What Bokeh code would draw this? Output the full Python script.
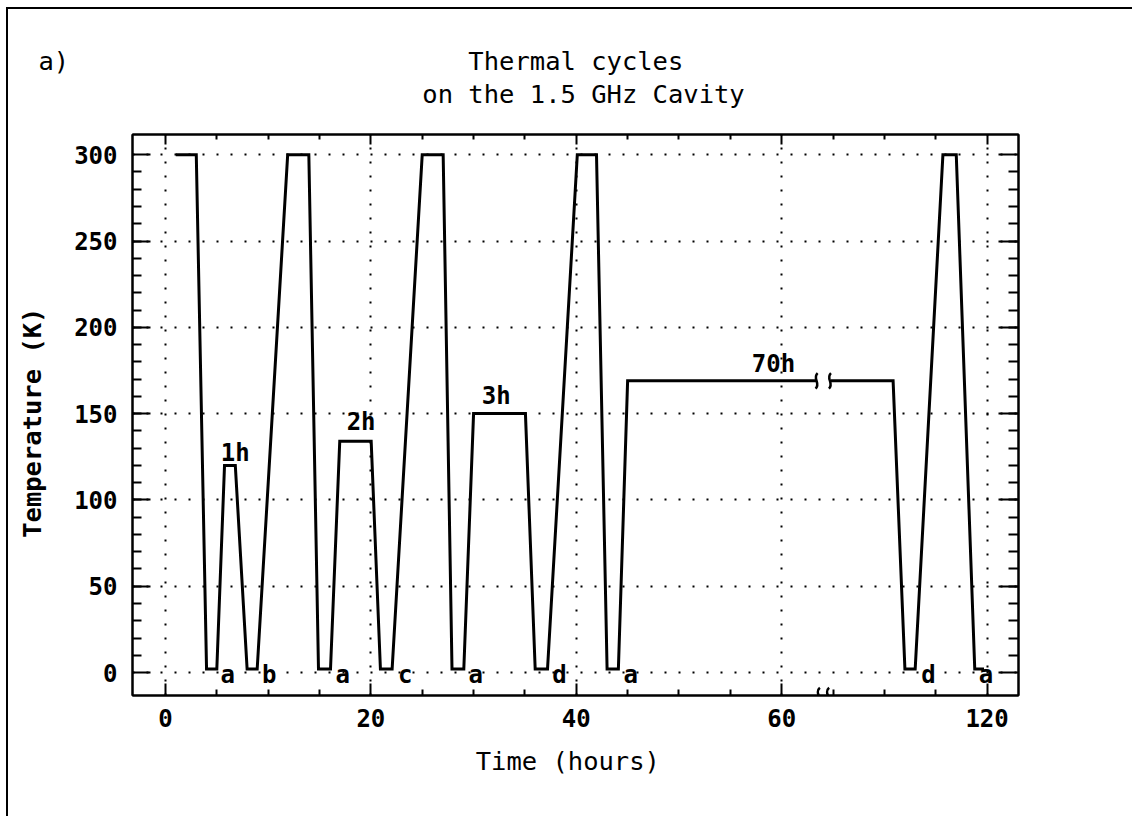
from bokeh.plotting import figure
from bokeh.models import Range1d, FixedTicker, LinearAxis, ColumnDataSource, Title
from bokeh.core.properties import value
from bokeh.embed import file_html
from bokeh.resources import INLINE

# ---------------- data (real hours, Kelvin) ----------------
# axis break: 40 hours of the 70 h hold are cut out after t = 64 h
BREAK_AT = 64.0
HIDDEN_HOURS = 40.0

time_part1 = [1, 3, 4, 5, 5.75, 6.8, 7.95, 8.93, 11.9, 13.96, 14.9, 16.07,
              16.97, 20.03, 20.93, 22.07, 25.0, 27.04, 27.9, 29.05, 30.0, 35.05,
              36.0, 37.2, 40.1, 41.97, 43.0, 44.1, 45.0, 63.4]
temp_part1 = [300, 300, 2, 2, 120, 120, 2, 2, 300, 300, 2, 2,
              134, 134, 2, 2, 300, 300, 2, 2, 150, 150,
              2, 2, 300, 300, 2, 2, 169, 169]
time_part2 = [104.8, 110.85, 112.0, 113.0, 115.7, 117.0, 118.8, 119.7]
temp_part2 = [169, 169, 2, 2, 300, 300, 2, 2]

letter_text = ["a", "b", "a", "c", "a", "d", "a", "d", "a"]
letter_time = [5.35, 9.4, 16.55, 22.65, 29.5, 37.65, 44.6, 113.6, 119.2]
letter_temp = [-1.5] * 9

hold_text = ["1h", "2h", "3h", "70h"]
hold_time = [6.8, 19.05, 32.2, 59.2]
hold_temp = [127, 145, 160, 179]

x_tick_hours = [0, 20, 40, 60, 120]
y_ticks = [0, 50, 100, 150, 200, 250, 300]
y_minor = [v for v in range(10, 300, 10)]
x_minor_hours = [5, 10, 15, 25, 30, 35, 45, 50, 55, 65, 105, 110, 115]
break_marks_hours = [63.4, 104.7]      # squiggles on the hold line
axis_break_hours = [63.6, 104.5]       # squiggles on the time axis

title_line1 = "Thermal cycles"
title_line2 = "on the 1.5 GHz Cavity"
panel_tag = "a)"


def disp(t):
    return t if t <= BREAK_AT else t - HIDDEN_HOURS


MONO = "DejaVu Sans Mono"
NB = "\u00a0"

p = figure(width=1126, height=809, output_backend="svg", toolbar_location=None,
           title=None,
           x_range=Range1d(-3.21, 83.06), y_range=Range1d(-13.3, 311.7),
           min_border_left=124, min_border_right=116,
           min_border_top=125, min_border_bottom=123)
p.styles = {"margin-left": "6px", "margin-top": "7px",
            "border-left": "2px solid black", "border-top": "2px solid black"}
p.background_fill_color = "white"
p.border_fill_color = "white"
p.outline_line_color = "black"
p.outline_line_width = 2

x_major = [disp(t) for t in x_tick_hours]
x_minor = [disp(t) for t in x_minor_hours]
x_ticker = FixedTicker(ticks=x_major, minor_ticks=x_minor)
y_ticker = FixedTicker(ticks=y_ticks, minor_ticks=y_minor)
overrides = {disp(t): str(t) for t in x_tick_hours}

# grids
p.xgrid.ticker = x_ticker
p.ygrid.ticker = y_ticker
for g in (p.xgrid, p.ygrid):
    g.grid_line_color = "black"
    g.grid_line_width = 2
    g.grid_line_dash = "2 12"


def style_axis(ax, tin, mtin, labels=True):
    ax.axis_line_color = "black"
    ax.axis_line_width = 2
    ax.major_tick_in = tin
    ax.major_tick_out = 0
    ax.minor_tick_in = mtin
    ax.minor_tick_out = 0
    ax.major_tick_line_width = 2
    ax.minor_tick_line_width = 2
    ax.major_tick_line_color = "black"
    ax.minor_tick_line_color = "black"
    if labels:
        ax.major_label_text_font = MONO
        ax.major_label_text_font_size = "24px"
        ax.major_label_text_font_style = "bold"
        ax.major_label_text_color = "black"
    else:
        ax.major_label_text_color = None
        ax.major_label_text_font_size = "1px"
        ax.major_label_standoff = 0


xa = p.xaxis[0]
xa.ticker = x_ticker
xa.major_label_overrides = overrides
style_axis(xa, 12, 6)
xa.major_label_standoff = 13
xa.axis_label = "Time  (hours)"
xa.axis_label_text_font = MONO
xa.axis_label_text_font_size = "25.5px"
xa.axis_label_text_font_style = "normal"
xa.axis_label_text_color = "black"
xa.axis_label_standoff = 16

ya = p.yaxis[0]
ya.ticker = y_ticker
style_axis(ya, 18, 9)
ya.major_label_standoff = 15
ya.axis_label = "Temperature  (K)"
ya.axis_label_text_font = MONO
ya.axis_label_text_font_size = "25.5px"
ya.axis_label_text_font_style = "bold"
ya.axis_label_text_color = "black"
ya.axis_label_standoff = 24

top = LinearAxis(ticker=x_ticker)
style_axis(top, 10, 5, labels=False)
p.add_layout(top, "above")
right = LinearAxis(ticker=y_ticker)
style_axis(right, 20, 10, labels=False)
p.add_layout(right, "right")

# title block: panel tag + two centred title lines (monospace columns)
line1 = panel_tag + NB * 26 + title_line1
line2 = NB * 25 + title_line2
p.add_layout(Title(text=line1 + "\n" + line2, align="left", offset=-94,
                   vertical_align="middle", text_font=MONO, text_font_size="25.5px",
                   text_font_style="normal", text_color="black",
                   text_line_height=1.1, standoff=50), "above")

# trace
src1 = ColumnDataSource(dict(x=[disp(t) for t in time_part1], y=temp_part1))
src2 = ColumnDataSource(dict(x=[disp(t) for t in time_part2], y=temp_part2))
p.line("x", "y", source=src1, line_color="black", line_width=3, line_join="miter")
p.line("x", "y", source=src2, line_color="black", line_width=3, line_join="miter")

# break marks on the hold line
bx = [disp(t) for t in break_marks_hours]
by = [temp_part1[-1]] * len(bx)
p.bezier(x0=[x + 0.1 for x in bx], y0=[y + 4.5 for y in by],
         x1=[x - 0.1 for x in bx], y1=[y - 4.5 for y in by],
         cx0=[x - 0.45 for x in bx], cy0=[y + 1.5 for y in by],
         cx1=[x + 0.45 for x in bx], cy1=[y - 1.5 for y in by],
         line_color="black", line_width=2.5)

# break marks on the time axis (lower half is clipped by the frame)
ax_x = [disp(t) for t in axis_break_hours]
ay = -13.3
p.bezier(x0=[x + 0.12 for x in ax_x], y0=[ay + 4.5] * 2,
         x1=[x - 0.12 for x in ax_x], y1=[ay - 4.5] * 2,
         cx0=[x - 0.5 for x in ax_x], cy0=[ay + 1.5] * 2,
         cx1=[x + 0.5 for x in ax_x], cy1=[ay - 1.5] * 2,
         line_color="black", line_width=2.5)

# letters and hold-time labels
lsrc = ColumnDataSource(dict(x=[disp(t) for t in letter_time], y=letter_temp, t=letter_text))
p.text("x", "y", text="t", source=lsrc, text_font=value(MONO), text_font_size="24px",
       text_font_style="bold", text_align="left", text_baseline="alphabetic",
       text_color="black")
hsrc = ColumnDataSource(dict(x=[disp(t) for t in hold_time], y=hold_temp, t=hold_text))
p.text("x", "y", text="t", source=hsrc, text_font=value(MONO), text_font_size="24px",
       text_font_style="bold", text_align="center", text_baseline="alphabetic",
       text_color="black")

open("out.html", "w").write(file_html(p, INLINE))
